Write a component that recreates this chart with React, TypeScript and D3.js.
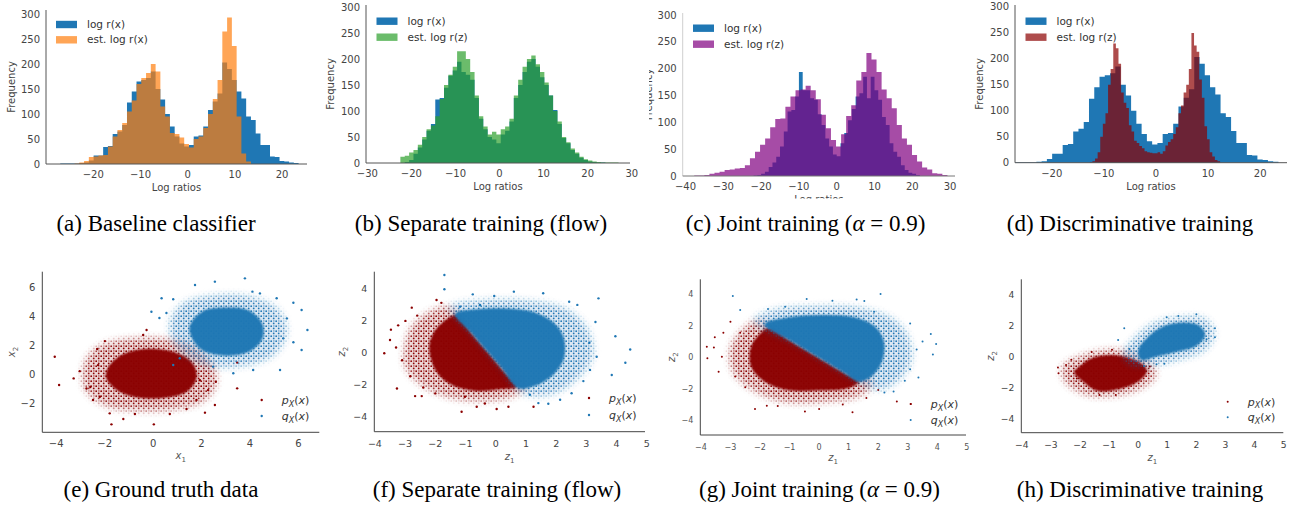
import React from 'react';
import * as d3 from 'd3';

type Pt = [number, number];

const W = 1301;
const H = 507;
const SANS = '"DejaVu Sans", sans-serif';
const SERIF = '"Liberation Serif", "Times New Roman", serif';

const BLUE = '#1f77b4';
const RED = '#8b0000';

// ---------- histogram data: counts per bin ----------
// ground truth log r(x), shared by (a) and (d)
const trueStart = -27;
const trueWidth = 1.01;
const trueLogR = [1, 1, 1, 1, 2, 3, 7, 17, 17, 34, 36, 60, 65, 78, 123, 145, 165, 168, 172, 185,
  150, 129, 100, 75, 55, 41, 35, 38, 55, 57, 75, 108, 125, 141, 203, 190, 168, 145, 131, 95,
  88, 61, 38, 38, 15, 14, 6, 5, 3, 2];
// (a) baseline classifier estimate (same bins)
const estBaseline = [0, 0, 0, 1, 3, 6, 14, 15, 17, 18, 35, 55, 68, 82, 105, 127, 160, 172, 182, 200,
  185, 115, 95, 62, 60, 53, 40, 33, 50, 55, 72, 100, 130, 168, 265, 293, 236, 95, 21, 5];

// (b) separate training (flow)
const flowStart = -22.5;
const flowWidth = 0.99;
const flowTrue = [0, 2, 6, 18, 30, 45, 62, 75, 122, 125, 145, 168, 178, 195, 175, 170, 160, 125, 85, 65,
  50, 45, 38, 55, 62, 80, 125, 150, 175, 195, 200, 185, 165, 150, 130, 102, 75, 48, 38, 25,
  18, 10, 6, 3, 2, 1, 1, 0, 0, 0];
const flowEst = [12, 14, 20, 25, 35, 50, 65, 72, 90, 123, 150, 170, 185, 215, 215, 200, 175, 130, 90, 70,
  55, 60, 55, 65, 70, 85, 130, 160, 185, 200, 207, 190, 175, 155, 130, 100, 80, 50, 40, 28,
  20, 12, 7, 5, 3, 2, 1, 1, 1, 1];

// (c) joint training
const jointTrueStart = -22;
const jointTrueWidth = 1;
const jointTrue = [1, 2, 4, 8, 17, 25, 36, 55, 83, 120, 123, 148, 194, 160, 160, 145, 142, 115, 95, 70,
  55, 40, 37, 61, 80, 104, 125, 148, 154, 185, 145, 185, 160, 142, 110, 95, 61, 45, 36, 20,
  11, 6, 4, 2];
const jointEstStart = -37.7;
const jointEstWidth = 1.34;
const jointEst = [1, 1, 2, 4, 6, 8, 11, 12, 14, 15, 20, 33, 45, 58, 70, 91, 106, 107, 129, 148,
  160, 161, 168, 160, 143, 114, 89, 67, 55, 78, 112, 132, 178, 194, 229, 217, 194, 161, 145, 126,
  95, 70, 58, 39, 27, 16, 12, 5, 4, 2];

// (d) discriminative training
const discStart = -12.7;
const discWidth = 0.5;
const discEst = [1, 3, 8, 20, 50, 75, 95, 150, 180, 229, 220, 190, 135, 115, 105, 72, 60, 42, 38, 32,
  28, 22, 20, 19, 18, 18, 20, 17, 22, 33, 40, 45, 55, 68, 95, 110, 135, 150, 180, 249,
  225, 213, 160, 125, 70, 45, 20, 12, 5, 3];

const freqTicks = [0, 50, 100, 150, 200, 250, 300];
const ticksA = [-20, -10, 0, 10, 20];
const ticksB = [-30, -20, -10, 0, 10, 20, 30];
const ticksC = [-40, -30, -20, -10, 0, 10, 20, 30];
const ticksD = [-20, -10, 0, 10, 20];

// ---------- scatter data (dense core outline, fringe outline, sparse points) ----------
const eP_core: Pt[] = [[-1.8, 0.6], [-1.2, 1.4], [-0.2, 1.75], [0.9, 1.5], [1.6, 0.8], [1.8, -0.2], [1.4, -1.2], [0.4, -1.65], [-0.7, -1.6], [-1.5, -1.1], [-1.95, -0.2]];
const eP_halo: Pt[] = [[-2.8, 0.8], [-2.2, 1.9], [-1.0, 2.4], [0.6, 2.4], [1.7, 1.9], [2.4, 0.8], [2.6, -0.6], [2.1, -1.8], [0.9, -2.4], [-0.6, -2.5], [-1.9, -2.2], [-2.8, -1.0]];
const eP_pts: Pt[] = [[-4.06, 1.2], [-3.88, -0.76], [-3.28, -0.3], [-3.03, 0.2], [-2.59, -0.9], [-2.48, -1.8], [-2.31, 1.73], [-1.99, 2.28], [-1.79, -2.72], [-1.72, -3.48], [-1.23, -3.11], [-0.75, -2.76], [-0.27, 3.05], [-0.41, 2.7], [0.03, -3.48], [0.69, -2.76], [1.38, -2.42], [2.14, -2.67], [2.55, -2.14], [2.59, -0.53], [3.47, -0.99], [3.47, 0.79], [1.93, -0.42], [2.27, -1.11], [1.79, -1.8], [-2.27, 0.62], [-2.75, -1.0], [-2.2, -1.57]];
const eQ_core: Pt[] = [[1.5, 3.2], [2.0, 4.3], [3.0, 4.6], [3.95, 4.4], [4.5, 3.5], [4.5, 2.4], [3.9, 1.5], [2.8, 1.3], [1.9, 1.8]];
const eQ_halo: Pt[] = [[0.7, 3.4], [1.2, 4.8], [2.6, 5.4], [4.0, 5.3], [5.1, 4.5], [5.5, 3.0], [5.0, 1.4], [3.7, 0.6], [2.1, 0.7], [1.0, 1.9]];
const eQ_pts: Pt[] = [[-0.07, 4.31], [0.35, 5.24], [0.83, 5.17], [1.73, 6.16], [2.55, 6.39], [3.79, 6.62], [4.1, 5.7], [4.41, 5.58], [5.1, 5.24], [5.79, 4.93], [6.13, 4.43], [6.37, 3.05], [6.13, 1.66], [5.79, 2.2], [5.37, 2.47], [5.24, 0.28], [4.13, 0.28], [3.31, 0.05], [2.48, 0.51], [1.1, 1.09], [0.83, 0.63], [0.26, 3.88], [0.55, 4.22], [5.52, 3.85]];

const fP_core: Pt[] = [[-2.2, 0.4], [-2.0, 1.4], [-1.6, 2.1], [-1.3, 2.35], [-0.8, 1.2], [-0.26, 0], [0.25, -1.15], [0.7, -2.15], [0.2, -2.3], [-0.7, -2.4], [-1.5, -2.0], [-2.0, -1.1]];
const fP_halo: Pt[] = [[-3.0, 0.3], [-2.8, 1.5], [-2.2, 2.5], [-1.5, 2.8], [-0.5, 1.0], [0.3, -0.6], [1.0, -2.1], [0.6, -2.7], [-0.5, -3.0], [-1.7, -2.7], [-2.6, -1.8], [-3.0, -0.8]];
const fP_pts: Pt[] = [[-3.69, -0.06], [-3.5, 0.77], [-3.47, 1.42], [-3.23, 1.69], [-3.27, -2.26], [-2.99, 1.97], [-2.78, 2.8], [-3.1, -0.5], [-2.83, -1.5], [-2.67, -2.74], [-2.45, -2.74], [-1.96, 3.28], [-1.8, 3.1], [-1.13, -3.72], [-0.63, -3.41], [-0.36, -3.2], [0.03, -3.55], [0.42, -3.41], [1.25, -3.41], [-1.02, -2.78], [-2.0, -2.57], [-2.6, 2.3], [-3.3, 0.3], [-2.4, -2.2]];
const fQ_core: Pt[] = [[-1.35, 2.4], [-0.6, 2.7], [0.4, 2.75], [1.3, 2.5], [1.95, 1.8], [2.25, 0.9], [2.25, -0.4], [1.9, -1.4], [1.3, -2.1], [0.75, -2.25], [0.2, -1.0], [-0.26, 0], [-0.8, 1.2]];
const fQ_halo: Pt[] = [[-1.5, 2.8], [-0.5, 3.2], [1.0, 3.2], [2.3, 2.7], [3.0, 1.5], [3.2, -0.2], [2.7, -1.6], [1.8, -2.6], [0.85, -2.5], [0.2, -1.0], [-0.8, 1.2]];
const fQ_pts: Pt[] = [[-1.7, 4.84], [-1.7, 3.95], [-0.76, 3.63], [-0.05, 3.53], [0.6, 3.8], [1.57, 3.7], [2.43, 3.17], [2.7, 2.97], [3.4, 3.38], [3.96, 1.01], [4.45, 0.18], [4.29, -0.65], [3.84, -1.42], [3.34, -0.28], [3.12, -1.1], [2.51, -2.56], [2.13, -2.97], [1.74, -3.22], [1.41, -3.18], [1.13, -2.66], [-0.52, 2.96], [-1.18, 2.86], [3.1, 0.6], [3.3, 1.9], [2.9, -1.8]];

const gP_core: Pt[] = [[-2.3, 0.7], [-2.0, 1.5], [-1.7, 1.9], [-0.93, 1.0], [-0.04, 0], [0.85, -1.0], [1.34, -1.55], [1.0, -1.95], [0.0, -2.1], [-1.0, -2.1], [-1.8, -1.6], [-2.3, -0.6]];
const gP_halo: Pt[] = [[-3.0, 0.5], [-2.7, 1.5], [-2.1, 2.3], [-1.0, 1.4], [0.5, -0.2], [1.8, -1.6], [1.4, -2.4], [0.2, -2.8], [-1.2, -2.8], [-2.2, -2.1], [-2.9, -0.9]];
const gP_pts: Pt[] = [[-3.8, 0.68], [-3.78, -0.06], [-3.53, 1.27], [-3.56, 0.63], [-3.24, 1.57], [-3.29, 0.04], [-3.4, -0.92], [-3.0, 2.27], [-2.84, -1.23], [-2.67, 1.57], [-2.17, -3.3], [-1.77, -3.08], [-0.48, -3.46], [0.0, -3.29], [1.13, -3.5], [2.63, -2.82], [3.1, -2.97], [2.0, -2.08], [-2.5, -1.9], [0.8, -3.0], [1.6, -2.6], [-1.4, -3.1]];
const gQ_core: Pt[] = [[-1.85, 2.1], [-1.0, 2.55], [0.2, 2.7], [1.3, 2.5], [1.95, 1.85], [2.2, 0.9], [2.1, -0.4], [1.75, -1.25], [1.34, -1.55], [0.85, -1.0], [-0.04, 0], [-0.93, 1.0]];
const gQ_halo: Pt[] = [[-2.2, 2.35], [-1.5, 3.0], [-0.1, 3.2], [1.4, 3.1], [2.5, 2.4], [3.0, 1.3], [3.1, -0.2], [2.7, -1.4], [2.1, -2.0], [1.56, -1.8], [0.85, -1.0], [-0.04, 0], [-0.93, 1.0]];
const gQ_pts: Pt[] = [[-2.92, 3.9], [-2.67, 3.01], [-1.73, 3.07], [-1.15, 3.22], [-0.42, 3.71], [0.45, 3.6], [1.27, 3.69], [1.53, 3.58], [2.08, 4.03], [1.86, 2.9], [3.08, 2.16], [3.78, 1.48], [3.96, 0.84], [3.85, 0.18], [3.36, -1.29], [3.08, -0.76], [2.52, -2.18], [2.21, -2.25], [3.3, 0.5], [2.9, -1.5], [3.5, 1.0]];

const hP_core: Pt[] = [[-2.0, -0.6], [-1.6, -0.1], [-0.8, 0.1], [0.0, -0.3], [0.3, -0.9], [0.0, -1.6], [-0.7, -2.1], [-1.4, -2.2], [-1.9, -1.6], [-2.2, -1.0]];
const hP_halo: Pt[] = [[-2.6, -0.7], [-2.0, 0.0], [-1.1, 0.4], [-0.3, 0.3], [0.4, -0.4], [0.6, -1.2], [0.1, -2.0], [-0.9, -2.5], [-1.8, -2.4], [-2.5, -1.6]];
const hP_pts: Pt[] = [[-2.76, -0.69], [-2.74, -1.07], [-2.48, -0.53], [-2.11, -1.4], [-1.33, -2.47], [-0.77, -2.47], [0.12, -0.6], [0.4, -0.64], [-2.3, -0.2], [-1.6, 0.3], [-0.9, 0.45]];
const hQ_core: Pt[] = [[0.0, 0.4], [0.3, 1.2], [0.8, 1.9], [1.5, 2.2], [2.1, 2.0], [2.3, 1.4], [2.0, 0.7], [1.3, 0.3], [0.6, 0.0], [0.1, -0.2]];
const hQ_halo: Pt[] = [[-0.5, 0.2], [-0.1, 1.2], [0.5, 2.1], [1.4, 2.5], [2.3, 2.4], [2.6, 1.5], [2.3, 0.5], [1.5, -0.1], [0.5, -0.5], [-0.3, -0.4]];
const hQ_pts: Pt[] = [[-0.48, 1.83], [-0.69, 1.08], [2.0, 2.73], [1.38, 2.63], [0.98, 2.54], [2.64, 1.83], [2.64, 1.25], [2.35, 1.12], [0.63, -0.49], [-0.3, 0.5], [0.2, -0.6], [0.9, -0.45]];

const ticksX1 = [-4, -2, 0, 2, 4, 6];
const ticksY1 = [-2, 0, 2, 4, 6];
const ticksZ1 = [-4, -3, -2, -1, 0, 1, 2, 3, 4, 5];
const ticksZ2 = [-4, -2, 0, 2, 4];

const fmt = (v: number) => (v < 0 ? '\u2212' + Math.abs(v) : String(v));

function binPoints(start: number, width: number, counts: number[]): Pt[] {
  const pts: Pt[] = counts.map((c, i) => [start + i * width, c] as Pt);
  pts.push([start + counts.length * width, 0]);
  return pts;
}

type HSeries = { start: number; width: number; counts: number[]; fill: string; opacity: number };

function Histogram(props: {
  id: string;
  xDomain: [number, number];
  left: number; right: number; bottom: number; top: number; yMax: number;
  xTicks: number[];
  series: HSeries[];
  legend: { label: string; fill: string; opacity: number }[];
  patchX: number; legendY: number; legendGap: number;
  ySpine?: string; xSpine?: string;
  yLabelX: number; clip?: { x: number; y: number; w: number; h: number };
}) {
  const p = props;
  const x = d3.scaleLinear().domain(p.xDomain).range([p.left, p.right]);
  const y = d3.scaleLinear().domain([0, p.yMax]).range([p.bottom, p.top]);
  const area = d3.area<Pt>().x(d => x(d[0])).y0(y(0)).y1(d => y(d[1])).curve(d3.curveStepAfter);
  const midY = (p.bottom + p.top) / 2;
  const midX = (p.left + p.right) / 2;
  const clipId = 'clip-' + p.id;
  return (
    <g fontFamily={SANS}>
      {p.clip && (
        <clipPath id={clipId}>
          <rect x={p.clip.x} y={p.clip.y} width={p.clip.w} height={p.clip.h} />
        </clipPath>
      )}
      {p.series.map((s, i) => (
        <path key={i} d={area(binPoints(s.start, s.width, s.counts)) || ''} fill={s.fill} fillOpacity={s.opacity} />
      ))}
      <line x1={p.left} x2={p.left} y1={p.top} y2={p.bottom} stroke={p.ySpine || '#555'} strokeWidth={1} />
      <line x1={p.left} x2={p.right} y1={p.bottom} y2={p.bottom} stroke={p.xSpine || '#555'} strokeWidth={1} />
      {freqTicks.map(t => (
        <text key={'y' + t} x={p.left - 6} y={y(t)} dy="0.36em" textAnchor="end" fontSize={10} fill="#444">{t}</text>
      ))}
      {p.xTicks.map(t => (
        <text key={'x' + t} x={x(t)} y={p.bottom + 14} textAnchor="middle" fontSize={10} fill="#444">{fmt(t)}</text>
      ))}
      <g clipPath={p.clip ? `url(#${clipId})` : undefined}>
        <text x={midX} y={p.bottom + 27} textAnchor="middle" fontSize={10} fill="#444">Log ratios</text>
        <text transform={`translate(${p.yLabelX},${midY}) rotate(-90)`} textAnchor="middle" fontSize={10} fill="#444">Frequency</text>
      </g>
      {p.legend.map((l, i) => (
        <g key={'l' + i}>
          <rect x={p.patchX} y={p.legendY + i * p.legendGap - 3.7} width={21} height={7.4} fill={l.fill} fillOpacity={l.opacity} />
          <text x={p.patchX + 31} y={p.legendY + i * p.legendGap + 3.6} fontSize={10.5} fill="#333">{l.label}</text>
        </g>
      ))}
    </g>
  );
}

type Cloud = { core: Pt[]; halo: Pt[]; pts: Pt[]; color: string; pattern: string };

function Scatter(props: {
  id: string;
  xDomain: [number, number]; yDomain: [number, number];
  left: number; right: number; bottom: number; top: number;
  xTicks: number[]; yTicks: number[];
  clouds: Cloud[];
  tickSize: number; tickColor: string;
  xName: string; yName: string; xLabelY: number; yLabelX: number;
  legendX: number; legendY: number; legendGap: number; r: number;
}) {
  const p = props;
  const x = d3.scaleLinear().domain(p.xDomain).range([p.left, p.right]);
  const y = d3.scaleLinear().domain(p.yDomain).range([p.bottom, p.top]);
  const shape = d3.line<Pt>().x(d => x(d[0])).y(d => y(d[1])).curve(d3.curveCatmullRomClosed.alpha(0.5));
  const midY = (p.bottom + p.top) / 2;
  const midX = (p.left + p.right) / 2;
  const names = ['p', 'q'];
  return (
    <g fontFamily={SANS}>
      {p.clouds.map((c, i) => {
        const maskId = `m-${p.id}-${i}`;
        return (
          <g key={i}>
            <mask id={maskId} maskUnits="userSpaceOnUse" x={0} y={0} width={W} height={H}>
              <path d={shape(c.halo) || ''} fill="#fff" filter="url(#soft)" />
            </mask>
            <rect x={p.left} y={p.top - 10} width={p.right - p.left} height={p.bottom - p.top + 10}
              fill={`url(#${c.pattern})`} mask={`url(#${maskId})`} />
            <path d={shape(c.halo) || ''} fill={c.color} fillOpacity={0.16} filter="url(#soft)" />
            <path d={shape(c.core) || ''} fill={c.color} fillOpacity={0.97} filter="url(#edge)" />
            {c.pts.map((d, j) => (
              <circle key={j} cx={x(d[0])} cy={y(d[1])} r={p.r} fill={c.color} />
            ))}
          </g>
        );
      })}
      <line x1={p.left} x2={p.left} y1={p.top} y2={p.bottom} stroke="#444" strokeWidth={1} />
      <line x1={p.left} x2={p.right} y1={p.bottom} y2={p.bottom} stroke="#444" strokeWidth={1} />
      {p.yTicks.map(t => (
        <text key={'y' + t} x={p.left - 7} y={y(t)} dy="0.36em" textAnchor="end" fontSize={p.tickSize} fill={p.tickColor}>{fmt(t)}</text>
      ))}
      {p.xTicks.map(t => (
        <text key={'x' + t} x={x(t)} y={p.bottom + 15} textAnchor="middle" fontSize={p.tickSize} fill={p.tickColor}>{fmt(t)}</text>
      ))}
      <text x={midX} y={p.xLabelY} textAnchor="middle" fontSize={10} fill="#555">
        <tspan fontStyle="italic">{p.xName}</tspan>
        <tspan fontSize={7} dy={2.5}>1</tspan>
      </text>
      <text transform={`translate(${p.yLabelX},${midY}) rotate(-90)`} textAnchor="middle" fontSize={10} fill="#555">
        <tspan fontStyle="italic">{p.yName}</tspan>
        <tspan fontSize={7} dy={2.5}>2</tspan>
      </text>
      {p.clouds.map((c, i) => {
        const ly = p.legendY + i * p.legendGap;
        return (
          <g key={'lg' + i}>
            <circle cx={p.legendX} cy={ly} r={p.r} fill={c.color} />
            <text x={p.legendX + 20} y={ly + 4} fontSize={11} fill="#333">
              <tspan fontStyle="italic">{names[i]}</tspan>
              <tspan fontStyle="italic" fontSize={8} dy={2.5}>X</tspan>
              <tspan dy={-2.5}>(</tspan>
              <tspan fontStyle="italic">x</tspan>
              <tspan>)</tspan>
            </text>
          </g>
        );
      })}
    </g>
  );
}

const captionsTop = [
  { x: 156, label: '(a) Baseline classifier' },
  { x: 481, label: '(b) Separate training (flow)' },
  { x: 1130, label: '(d) Discriminative training' },
];
const captionsBottom = [
  { x: 161, label: '(e) Ground truth data' },
  { x: 497, label: '(f) Separate training (flow)' },
  { x: 1140, label: '(h) Discriminative training' },
];

function DotPattern({ id, color }: { id: string; color: string }) {
  return (
    <pattern id={id} width={5} height={5} patternUnits="userSpaceOnUse">
      <circle cx={1.2} cy={1.2} r={0.9} fill={color} />
      <circle cx={3.7} cy={3.4} r={0.9} fill={color} />
      <circle cx={3.9} cy={0.9} r={0.6} fill={color} />
    </pattern>
  );
}

export default function App() {
  return (
    <svg width={W} height={H} style={{ position: 'absolute', left: 0, top: 0 }}>
      <defs>
        <DotPattern id="dotsRed" color={RED} />
        <DotPattern id="dotsBlue" color={BLUE} />
        <filter id="soft" x="-20%" y="-20%" width="140%" height="140%">
          <feGaussianBlur stdDeviation={3.5} />
        </filter>
        <filter id="edge" x="-10%" y="-10%" width="120%" height="120%">
          <feGaussianBlur stdDeviation={0.8} />
        </filter>
      </defs>
      <rect width={W} height={H} fill="#fff" />
      <Histogram id="a" xDomain={[-30.02, 25.28]} left={46} right={307} bottom={164} top={10} yMax={308}
        xTicks={ticksA}
        series={[
          { start: trueStart, width: trueWidth, counts: trueLogR, fill: BLUE, opacity: 1 },
          { start: trueStart, width: trueWidth, counts: estBaseline, fill: '#ff7f0e', opacity: 0.7 },
        ]}
        legend={[{ label: 'log r(x)', fill: BLUE, opacity: 1 }, { label: 'est. log r(x)', fill: '#ff7f0e', opacity: 0.7 }]}
        patchX={56} legendY={24.5} legendGap={15.3} yLabelX={15} />
      <Histogram id="b" xDomain={[-30.3, 29.6]} left={366} right={630} bottom={163} top={5} yMax={304}
        xTicks={ticksB}
        series={[
          { start: flowStart, width: flowWidth, counts: flowTrue, fill: BLUE, opacity: 1 },
          { start: flowStart, width: flowWidth, counts: flowEst, fill: '#2ca02c', opacity: 0.7 },
        ]}
        legend={[{ label: 'log r(x)', fill: BLUE, opacity: 1 }, { label: 'est. log r(z)', fill: '#2ca02c', opacity: 0.7 }]}
        patchX={376.5} legendY={21.2} legendGap={16} yLabelX={334} />
      <Histogram id="c" xDomain={[-40.75, 31.3]} left={682.7} right={955} bottom={176} top={13} yMax={303.7}
        xTicks={ticksC}
        series={[
          { start: jointTrueStart, width: jointTrueWidth, counts: jointTrue, fill: BLUE, opacity: 1 },
          { start: jointEstStart, width: jointEstWidth, counts: jointEst, fill: '#800080', opacity: 0.7 },
        ]}
        legend={[{ label: 'log r(x)', fill: BLUE, opacity: 1 }, { label: 'est. log r(z)', fill: '#800080', opacity: 0.7 }]}
        patchX={693} legendY={28.2} legendGap={16} yLabelX={652} ySpine="#cfcfcf" xSpine="#777"
        clip={{ x: 649, y: 0, w: 320, h: 198.5 }} />
      <Histogram id="d" xDomain={[-27.06, 25.14]} left={1015} right={1287} bottom={162.7} top={5} yMax={303}
        xTicks={ticksD}
        series={[
          { start: trueStart, width: trueWidth, counts: trueLogR, fill: BLUE, opacity: 1 },
          { start: discStart, width: discWidth, counts: discEst, fill: RED, opacity: 0.7 },
        ]}
        legend={[{ label: 'log r(x)', fill: BLUE, opacity: 1 }, { label: 'est. log r(z)', fill: RED, opacity: 0.7 }]}
        patchX={1025.5} legendY={21.2} legendGap={16} yLabelX={983} />

      <Scatter id="e" xDomain={[-4.574, 6.86]} yDomain={[-4.03, 7.08]} left={42.3} right={319.3} bottom={432.3} top={271.7}
        xTicks={ticksX1} yTicks={ticksY1}
        clouds={[
          { core: eP_core, halo: eP_halo, pts: eP_pts, color: RED, pattern: 'dotsRed' },
          { core: eQ_core, halo: eQ_halo, pts: eQ_pts, color: BLUE, pattern: 'dotsBlue' },
        ]}
        tickSize={10} tickColor="#444" xName="x" yName="x" xLabelY={459} yLabelX={15}
        legendX={261.7} legendY={400} legendGap={16} r={1.2} />
      <Scatter id="f" xDomain={[-4.02, 4.94]} yDomain={[-4.97, 5.05]} left={374.3} right={645} bottom={431.7} top={271.7}
        xTicks={ticksZ1} yTicks={ticksZ2}
        clouds={[
          { core: fP_core, halo: fP_halo, pts: fP_pts, color: RED, pattern: 'dotsRed' },
          { core: fQ_core, halo: fQ_halo, pts: fQ_pts, color: BLUE, pattern: 'dotsBlue' },
        ]}
        tickSize={9.5} tickColor="#444" xName="z" yName="z" xLabelY={460} yLabelX={345}
        legendX={589} legendY={398} legendGap={17} r={1.2} />
      <Scatter id="g" xDomain={[-4.02, 4.97]} yDomain={[-4.95, 4.97]} left={700.3} right={966} bottom={435} top={279.3}
        xTicks={ticksZ1} yTicks={ticksZ2}
        clouds={[
          { core: gP_core, halo: gP_halo, pts: gP_pts, color: RED, pattern: 'dotsRed' },
          { core: gQ_core, halo: gQ_halo, pts: gQ_pts, color: BLUE, pattern: 'dotsBlue' },
        ]}
        tickSize={8} tickColor="#555" xName="z" yName="z" xLabelY={461} yLabelX={675}
        legendX={910.7} legendY={404} legendGap={16} r={1} />
      <Scatter id="h" xDomain={[-4.02, 4.99]} yDomain={[-4.9, 4.99]} left={1021.3} right={1283.3} bottom={432.7} top={279.3}
        xTicks={ticksZ1} yTicks={ticksZ2}
        clouds={[
          { core: hP_core, halo: hP_halo, pts: hP_pts, color: RED, pattern: 'dotsRed' },
          { core: hQ_core, halo: hQ_halo, pts: hQ_pts, color: BLUE, pattern: 'dotsBlue' },
        ]}
        tickSize={9.2} tickColor="#444" xName="z" yName="z" xLabelY={461} yLabelX={994}
        legendX={1227.7} legendY={401.7} legendGap={15.6} r={1} />

      <g fontFamily={SERIF} fontSize={23} fill="#000" textAnchor="middle">
        {captionsTop.map(c => (
          <text key={c.label} x={c.x} y={231}>{c.label}</text>
        ))}
        <text x={805.5} y={231}>(c) Joint training (<tspan fontStyle="italic">{'\u03b1'}</tspan> = 0.9)</text>
        {captionsBottom.map(c => (
          <text key={c.label} x={c.x} y={497}>{c.label}</text>
        ))}
        <text x={819.5} y={497}>(g) Joint training (<tspan fontStyle="italic">{'\u03b1'}</tspan> = 0.9)</text>
      </g>
    </svg>
  );
}
